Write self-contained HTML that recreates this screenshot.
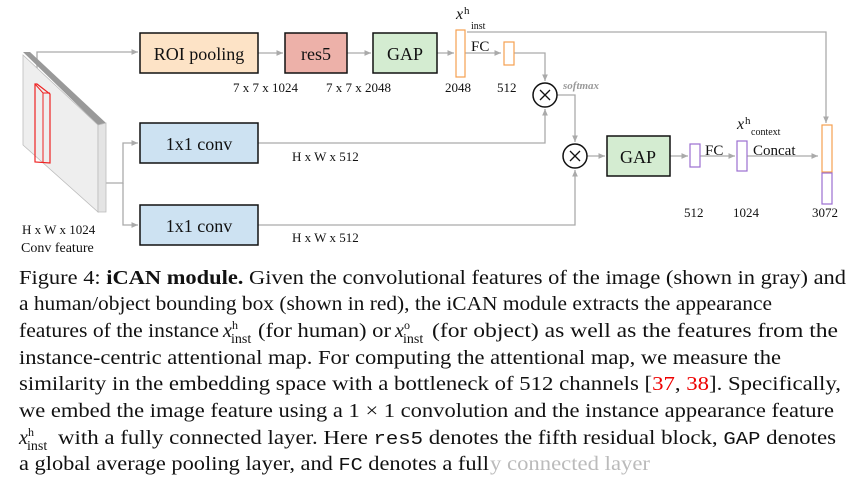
<!DOCTYPE html>
<html><head><meta charset="utf-8"><style>
html,body{margin:0;padding:0;background:#fff}
svg{display:block}
.t{font-family:"Liberation Serif",serif;fill:#111}
.c{font-family:"Liberation Serif",serif;font-size:20px;fill:#111}
.sup{font-family:"Liberation Serif",serif;font-size:12px;fill:#111}
.sub{font-family:"Liberation Serif",serif;font-size:14px;fill:#111}
.m{font-family:"Liberation Mono",monospace;font-size:18px}
</style></head><body>
<svg width="854" height="495" viewBox="0 0 854 495" xmlns="http://www.w3.org/2000/svg">
<defs><marker id="a" markerWidth="6" markerHeight="6" refX="5" refY="3" orient="auto"><path d="M0,0.8 L5,3 L0,5.2z" fill="#aaa"/></marker></defs>
<g stroke="#aaa" stroke-width="1.3" fill="none">
<path d="M37,84 V52 H138" marker-end="url(#a)"/>
<path d="M258,53 H283" marker-end="url(#a)"/>
<path d="M347,53 H371" marker-end="url(#a)"/>
<path d="M437,53 H454" marker-end="url(#a)"/>
<path d="M465,53 H501" marker-end="url(#a)"/>
<path d="M514,53 H545 V81" marker-end="url(#a)"/>
<path d="M467,32 H826 V123" marker-end="url(#a)"/>
<path d="M106,183 H123 V143 H138" marker-end="url(#a)"/>
<path d="M123,183 V225 H138" marker-end="url(#a)"/>
<path d="M258,143 H545 V109" marker-end="url(#a)"/>
<path d="M258,225 H575 V170" marker-end="url(#a)"/>
<path d="M557,95 H575 V142" marker-end="url(#a)"/>
<path d="M587,156 H605" marker-end="url(#a)"/>
<path d="M670,156 H688" marker-end="url(#a)"/>
<path d="M700,156 H735" marker-end="url(#a)"/>
<path d="M747,156 H818" marker-end="url(#a)"/>
</g>
<!-- slab -->
<polygon points="23,52 30,52 106,123 98,125" fill="#999"/>
<polygon points="23,55 98,125 98,212 23,145" fill="#eee" stroke="#bbb" stroke-width="0.8"/>
<polygon points="98,125 106,123 106,212 98,212" fill="#e4e4e4" stroke="#bbb" stroke-width="0.8"/>
<polygon points="35,84 37,84 50,94 50,163 35,162" fill="none" stroke="#e22" stroke-width="1.2"/>
<path d="M35,84 L43,93 H50 M43,93 V162" stroke="#e22" stroke-width="1" fill="none"/>
<!-- boxes -->
<rect x="140" y="33" width="118" height="40" fill="#fde3c6" stroke="#111" stroke-width="1.5"/>
<rect x="285" y="33" width="62" height="40" fill="#edb1a9" stroke="#111" stroke-width="1.5"/>
<rect x="373" y="33" width="64" height="40" fill="#d4ecd1" stroke="#111" stroke-width="1.5"/>
<rect x="140" y="123" width="118" height="40" fill="#cde2f2" stroke="#111" stroke-width="1.5"/>
<rect x="140" y="205" width="118" height="40" fill="#cde2f2" stroke="#111" stroke-width="1.5"/>
<rect x="607" y="136" width="63" height="40" fill="#d4ecd1" stroke="#111" stroke-width="1.5"/>
<g class="t" font-size="18" text-anchor="middle">
<text x="199" y="60">ROI pooling</text><text x="316" y="60">res5</text><text x="405" y="60">GAP</text>
<text x="199" y="150">1x1 conv</text><text x="199" y="232">1x1 conv</text><text x="638" y="163">GAP</text>
</g>
<!-- bars -->
<g fill="#fff" stroke-width="1.2">
<rect x="456" y="30" width="9" height="47" stroke="#f5a050"/>
<rect x="504" y="42" width="10" height="23" stroke="#f5a050"/>
<rect x="690" y="144" width="10" height="23" stroke="#9b6fd0"/>
<rect x="737" y="141" width="10" height="30" stroke="#9b6fd0"/>
<rect x="822" y="125" width="10" height="47" stroke="#f5a050"/>
<rect x="822" y="173" width="10" height="31" stroke="#9b6fd0"/>
</g>
<g fill="#fff" stroke="#111" stroke-width="1.5">
<circle cx="545" cy="95" r="12"/><circle cx="575" cy="156" r="12"/>
</g>
<path d="M540,90 L550,100 M550,90 L540,100 M570,151 L580,161 M580,151 L570,161" stroke="#111" stroke-width="1.3"/>
<g class="t" font-size="13">
<text x="233" y="92">7 x 7 x 1024</text><text x="326" y="92">7 x 7 x 2048</text>
<text x="445" y="92">2048</text><text x="497" y="92">512</text>
<text x="292" y="161">H x W x 512</text><text x="292" y="242">H x W x 512</text>
<text x="22" y="234">H x W x 1024</text><text x="21" y="252" font-size="14">Conv feature</text>
<text x="684" y="217">512</text><text x="733" y="217">1024</text><text x="812" y="217">3072</text>
<text x="471" y="51" font-size="15">FC</text><text x="705" y="155" font-size="15">FC</text><text x="753" y="155" font-size="15">Concat</text>
<text x="456" y="19" font-size="16" font-style="italic">x</text><text x="464" y="14" font-size="11">h</text><text x="471" y="29" font-size="10">inst</text>
<text x="737" y="129" font-size="16" font-style="italic">x</text><text x="745" y="124" font-size="11">h</text><text x="751" y="135" font-size="10">context</text>
<text x="563" y="89" font-size="11" font-style="italic" font-weight="bold" style="fill:#999">softmax</text>
</g>
<!-- caption -->
<text class="c" x="19" y="284" textLength="827" lengthAdjust="spacingAndGlyphs">Figure 4: <tspan font-weight="bold">iCAN module.</tspan> Given the convolutional features of the image (shown in gray) and</text>
<text class="c" x="19" y="310" textLength="753" lengthAdjust="spacingAndGlyphs">a human/object bounding box (shown in red), the iCAN module extracts the appearance</text>
<text class="c" x="19" y="337" textLength="200" lengthAdjust="spacingAndGlyphs">features of the instance</text>
<text class="c" x="223" y="337" font-style="italic">x</text><text class="sup" x="232" y="329">h</text><text class="sub" x="231" y="343">inst</text>
<text class="c" x="258" y="337" textLength="133" lengthAdjust="spacingAndGlyphs">(for human) or</text>
<text class="c" x="395" y="337" font-style="italic">x</text><text class="sup" x="404" y="329">o</text><text class="sub" x="403" y="343">inst</text>
<text class="c" x="432" y="337" textLength="406" lengthAdjust="spacingAndGlyphs">(for object) as well as the features from the</text>
<text class="c" x="19" y="364" textLength="762" lengthAdjust="spacingAndGlyphs">instance-centric attentional map. For computing the attentional map, we measure the</text>
<text class="c" x="19" y="390" textLength="822" lengthAdjust="spacingAndGlyphs">similarity in the embedding space with a bottleneck of 512 channels [<tspan fill="#e00">37</tspan>, <tspan fill="#e00">38</tspan>]. Specifically,</text>
<text class="c" x="19" y="417" textLength="815" lengthAdjust="spacingAndGlyphs">we embed the image feature using a 1 × 1 convolution and the instance appearance feature</text>
<text class="c" x="19" y="444" font-style="italic">x</text><text class="sup" x="28" y="436">h</text><text class="sub" x="27" y="450">inst</text>
<text class="c" x="58" y="444" textLength="778" lengthAdjust="spacingAndGlyphs">with a fully connected layer. Here <tspan class="m">res5</tspan> denotes the fifth residual block, <tspan class="m">GAP</tspan> denotes</text>
<text class="c" x="19" y="470" textLength="470" lengthAdjust="spacingAndGlyphs">a global average pooling layer, and <tspan class="m">FC</tspan> denotes a full</text>
<text class="c" x="490" y="470" textLength="160" lengthAdjust="spacingAndGlyphs" style="fill:#bbb">y connected layer</text>
</svg>
</body></html>
